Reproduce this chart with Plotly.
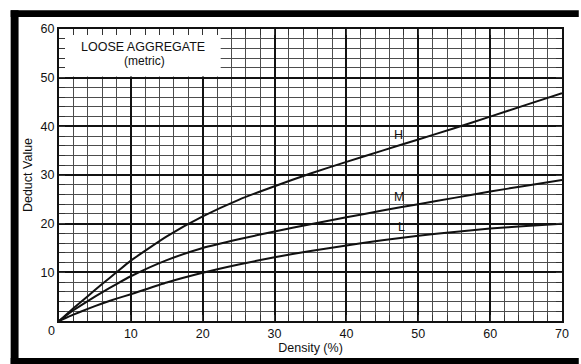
import numpy as np
import plotly.graph_objects as go

# Density (%) sample points shared by the three severity curves
density = [0, 2, 4, 6, 8, 10, 15, 20, 25, 30, 35, 40, 45, 50, 55, 60, 65, 70]

# Deduct values for each severity level
deduct_h = [0, 2.6, 5.1, 7.6, 10.0, 12.4, 17.4, 21.5, 24.9, 27.7, 30.3, 32.7, 35.0, 37.3, 39.6, 42.0, 44.4, 46.8]
deduct_m = [0, 2.2, 4.1, 5.9, 7.6, 9.2, 12.5, 15.0, 16.8, 18.4, 19.9, 21.3, 22.7, 24.0, 25.3, 26.6, 27.8, 29.0]
deduct_l = [0, 1.3, 2.5, 3.6, 4.6, 5.5, 7.9, 9.9, 11.6, 13.1, 14.4, 15.5, 16.6, 17.5, 18.3, 19.0, 19.5, 20.0]

series = [("H", deduct_h, 47.3), ("M", deduct_m, 47.3), ("L", deduct_l, 47.6)]

x_ticks = [10, 20, 30, 40, 50, 60, 70]
y_ticks = [10, 20, 30, 40, 50, 60]

W, H = 581, 364
ML, MR, MT, MB = 59, 12, 29, 40
PW, PH = W - ML - MR, H - MT - MB

FONT = "Liberation Sans, Arial, Helvetica, sans-serif"
INK = "#111111"


def px_x(p):
    return (p - ML) / PW


def px_y(p):
    return (H - MB - p) / PH


fig = go.Figure()

for name, vals, lx in series:
    fig.add_trace(go.Scatter(
        x=density, y=vals, mode="lines", name=name,
        line=dict(color="#111111", width=2, shape="spline", smoothing=0.5),
        showlegend=False, hoverinfo="skip",
    ))
    fig.add_annotation(
        x=lx, y=float(np.interp(lx, density, vals)), yshift=11, text=name,
        showarrow=False, font=dict(family=FONT, size=12.5, color=INK),
    )

shapes = []
# white panel behind the chart caption (covers the grid, not the border ticks)
shapes.append(dict(type="rect", xref="x", yref="y", x0=0, x1=22.5, y0=50.25, y1=60,
                   fillcolor="white", line=dict(width=0), layer="between"))
# black frame around the figure
frame = dict(type="rect", xref="paper", yref="paper", fillcolor="black",
             line=dict(width=0), layer="above")
shapes.append(dict(frame, x0=px_x(10), x1=px_x(W + 5), y0=px_y(17), y1=px_y(10)))
shapes.append(dict(frame, x0=px_x(10), x1=px_x(18), y0=px_y(H + 5), y1=px_y(10)))
shapes.append(dict(frame, x0=px_x(10), x1=px_x(W + 5), y0=px_y(H + 5), y1=px_y(361.5)))
fig.update_layout(shapes=shapes)

fig.add_annotation(text="LOOSE AGGREGATE", x=11.7, y=56.2, xref="x", yref="y",
                   showarrow=False, font=dict(family=FONT, size=12.5, color=INK))
fig.add_annotation(text="(metric)", x=11.9, y=53.4, xref="x", yref="y",
                   showarrow=False, font=dict(family=FONT, size=12, color=INK))
# shared origin label
fig.add_annotation(text="0", x=0, y=0, xref="x", yref="y", xshift=-8, yshift=-10,
                   showarrow=False, font=dict(family=FONT, size=12.5, color=INK))

axis_common = dict(
    showline=True, linecolor="#111111", linewidth=2, mirror="ticks",
    ticks="inside", ticklen=6, tickwidth=1, tickcolor="#333333",
    showgrid=True, gridcolor="#111111", gridwidth=2,
    zeroline=False,
    tickfont=dict(family=FONT, size=12.5, color=INK),
    minor=dict(dtick=2, showgrid=True, gridcolor="#4d4d4d", gridwidth=1,
               ticks="inside", ticklen=6, tickwidth=1, tickcolor="#333333"),
)

fig.update_xaxes(range=[0, 70], tickvals=x_ticks, dtick=10, tick0=0, **axis_common,
                 title=dict(text="Density (%)", standoff=2,
                            font=dict(family=FONT, size=12.5, color=INK)))
fig.update_yaxes(range=[0, 60], tickvals=y_ticks, dtick=10, tick0=0, **axis_common,
                 title=dict(text="Deduct Value", standoff=5,
                            font=dict(family=FONT, size=12.5, color=INK)))

fig.update_layout(
    width=W, height=H,
    margin=dict(l=ML, r=MR, t=MT, b=MB),
    paper_bgcolor="white", plot_bgcolor="white",
)

fig.write_html("out.html")
